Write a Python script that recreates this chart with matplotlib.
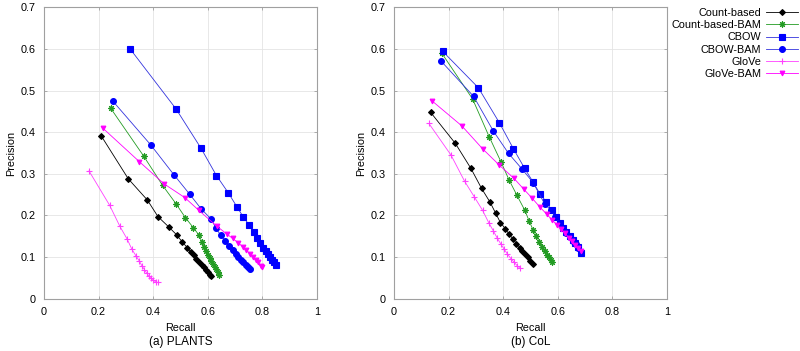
import matplotlib
matplotlib.use("Agg")
import matplotlib.pyplot as plt

plt.rcParams['font.family'] = ['Liberation Sans', 'DejaVu Sans']

# (a) PLANTS
plants_count_r = [0.209, 0.309, 0.379, 0.418, 0.458, 0.487, 0.507, 0.525, 0.538, 0.549, 0.559, 0.569, 0.578, 0.586, 0.593, 0.601, 0.608, 0.613]
plants_count_p = [0.392, 0.288, 0.237, 0.197, 0.172, 0.153, 0.136, 0.123, 0.112, 0.104, 0.095, 0.088, 0.082, 0.075, 0.070, 0.063, 0.058, 0.055]
plants_countbam_r = [0.244, 0.365, 0.435, 0.484, 0.518, 0.547, 0.569, 0.579, 0.586, 0.593, 0.601, 0.608, 0.614, 0.620, 0.626, 0.632, 0.637, 0.642]
plants_countbam_p = [0.458, 0.343, 0.272, 0.228, 0.195, 0.171, 0.152, 0.136, 0.125, 0.115, 0.106, 0.098, 0.091, 0.083, 0.077, 0.071, 0.065, 0.058]
plants_cbow_r = [0.317, 0.484, 0.576, 0.632, 0.676, 0.707, 0.731, 0.751, 0.768, 0.781, 0.792, 0.802, 0.812, 0.821, 0.829, 0.836, 0.844, 0.850]
plants_cbow_p = [0.599, 0.456, 0.361, 0.296, 0.254, 0.221, 0.196, 0.178, 0.160, 0.146, 0.134, 0.123, 0.115, 0.107, 0.099, 0.093, 0.087, 0.081]
plants_cbowbam_r = [0.252, 0.392, 0.476, 0.534, 0.576, 0.613, 0.630, 0.648, 0.665, 0.679, 0.691, 0.702, 0.712, 0.722, 0.731, 0.740, 0.748, 0.756]
plants_cbowbam_p = [0.475, 0.369, 0.298, 0.251, 0.216, 0.191, 0.170, 0.152, 0.139, 0.127, 0.117, 0.108, 0.101, 0.094, 0.087, 0.081, 0.075, 0.071]
plants_glove_r = [0.165, 0.241, 0.278, 0.305, 0.322, 0.337, 0.349, 0.359, 0.368, 0.376, 0.385, 0.392, 0.400, 0.409, 0.418]
plants_glove_p = [0.307, 0.224, 0.174, 0.143, 0.119, 0.103, 0.091, 0.079, 0.070, 0.062, 0.054, 0.049, 0.044, 0.041, 0.039]
plants_glovebam_r = [0.217, 0.350, 0.440, 0.516, 0.568, 0.634, 0.669, 0.691, 0.711, 0.728, 0.742, 0.755, 0.767, 0.777, 0.785, 0.794, 0.799]
plants_glovebam_p = [0.409, 0.329, 0.276, 0.243, 0.212, 0.174, 0.156, 0.145, 0.135, 0.125, 0.116, 0.108, 0.100, 0.093, 0.087, 0.079, 0.075]

# (b) CoL
col_count_r = [0.134, 0.225, 0.282, 0.321, 0.352, 0.373, 0.390, 0.408, 0.422, 0.437, 0.449, 0.462, 0.471, 0.481, 0.490, 0.498, 0.508]
col_count_p = [0.448, 0.373, 0.313, 0.265, 0.232, 0.205, 0.183, 0.168, 0.155, 0.143, 0.132, 0.123, 0.115, 0.107, 0.099, 0.091, 0.083]
col_countbam_r = [0.175, 0.288, 0.349, 0.392, 0.422, 0.451, 0.479, 0.496, 0.510, 0.522, 0.533, 0.543, 0.552, 0.560, 0.567, 0.574, 0.578]
col_countbam_p = [0.590, 0.480, 0.389, 0.329, 0.285, 0.248, 0.213, 0.186, 0.165, 0.150, 0.136, 0.124, 0.114, 0.106, 0.099, 0.093, 0.089]
col_cbow_r = [0.179, 0.309, 0.386, 0.438, 0.479, 0.510, 0.535, 0.559, 0.578, 0.593, 0.608, 0.620, 0.632, 0.645, 0.656, 0.665, 0.674, 0.684]
col_cbow_p = [0.594, 0.507, 0.423, 0.360, 0.313, 0.280, 0.252, 0.232, 0.212, 0.196, 0.183, 0.171, 0.161, 0.151, 0.141, 0.133, 0.125, 0.111]
col_cbowbam_r = [0.171, 0.292, 0.364, 0.420, 0.470, 0.510, 0.552, 0.576, 0.592, 0.608, 0.620, 0.632, 0.645, 0.657, 0.667, 0.676, 0.684]
col_cbowbam_p = [0.572, 0.486, 0.403, 0.349, 0.311, 0.279, 0.228, 0.212, 0.196, 0.181, 0.169, 0.159, 0.149, 0.139, 0.131, 0.121, 0.111]
col_glove_r = [0.128, 0.209, 0.259, 0.295, 0.325, 0.347, 0.364, 0.379, 0.392, 0.404, 0.416, 0.429, 0.441, 0.452, 0.462]
col_glove_p = [0.421, 0.345, 0.282, 0.244, 0.212, 0.183, 0.163, 0.145, 0.131, 0.119, 0.107, 0.096, 0.087, 0.079, 0.073]
col_glovebam_r = [0.140, 0.249, 0.325, 0.386, 0.440, 0.476, 0.507, 0.535, 0.560, 0.580, 0.598, 0.613, 0.627, 0.640, 0.652, 0.663, 0.674, 0.684]
col_glovebam_p = [0.475, 0.415, 0.360, 0.321, 0.289, 0.263, 0.241, 0.220, 0.203, 0.189, 0.177, 0.167, 0.157, 0.147, 0.138, 0.130, 0.122, 0.115]

labels = ['Count-based', 'Count-based-BAM', 'CBOW', 'CBOW-BAM', 'GloVe', 'GloVe-BAM']
colors = ['black', '#239b23', '#0000ff', '#0000ff', '#ff40ff', '#ff00ff']
markers = ['D', (8, 2, 0), 's', 'o', '+', 'v']
msizes = [3, 4.5, 4.2, 4.2, 4.5, 3.4]
lcolors = ['black', '#239b23', '#3333dd', '#3333dd', '#ff40ff', '#ff00ff']

plants = [(plants_count_r, plants_count_p), (plants_countbam_r, plants_countbam_p),
          (plants_cbow_r, plants_cbow_p), (plants_cbowbam_r, plants_cbowbam_p),
          (plants_glove_r, plants_glove_p), (plants_glovebam_r, plants_glovebam_p)]
col = [(col_count_r, col_count_p), (col_countbam_r, col_countbam_p),
       (col_cbow_r, col_cbow_p), (col_cbowbam_r, col_cbowbam_p),
       (col_glove_r, col_glove_p), (col_glovebam_r, col_glovebam_p)]

fig = plt.figure(figsize=(8, 3.51), dpi=100)
ax1 = fig.add_axes([0.055, 0.149, 0.341, 0.830])
ax2 = fig.add_axes([0.4925, 0.149, 0.341, 0.830])

fs = 7.8
handles = []
for ax, data, title in [(ax1, plants, '(a) PLANTS'), (ax2, col, '(b) CoL')]:
    for i, (r, p) in enumerate(data):
        ln, = ax.plot(r, p, color=lcolors[i], lw=0.6, marker=markers[i], ms=msizes[i],
                      mfc=colors[i], mec=colors[i], mew=0.8, label=labels[i])
        if ax is ax1:
            handles.append(ln)
    ax.set_xlim(0, 1)
    ax.set_ylim(0, 0.7)
    ax.set_xticks([0, 0.2, 0.4, 0.6, 0.8, 1])
    ax.set_xticklabels(['0', '0.2', '0.4', '0.6', '0.8', '1'])
    ax.set_yticks([0, 0.1, 0.2, 0.3, 0.4, 0.5, 0.6, 0.7])
    ax.set_yticklabels(['0', '0.1', '0.2', '0.3', '0.4', '0.5', '0.6', '0.7'])
    ax.grid(True, color='#e4e4e4', lw=0.6)
    ax.set_axisbelow(True)
    for s in ax.spines.values():
        s.set_color('#a0a0a0')
        s.set_linewidth(0.8)
    ax.tick_params(direction='in', length=2.5, width=0.6, color='#a0a0a0',
                   labelsize=fs, pad=6, top=True, right=True)
    ax.set_xlabel('Recall', fontsize=fs, labelpad=4)
    ax.set_ylabel('Precision', fontsize=fs, labelpad=3)
    ax.text(0.5, -0.148, title, transform=ax.transAxes, ha='center', va='center', fontsize=8.5)

fig.legend(handles, labels, loc='upper right', bbox_to_anchor=(0.998, 0.977), frameon=False,
           markerfirst=False, fontsize=7.8, handlelength=3.0, handletextpad=0.45,
           labelspacing=0.2, borderpad=0, borderaxespad=0)

fig.savefig('out.png', dpi=100)
